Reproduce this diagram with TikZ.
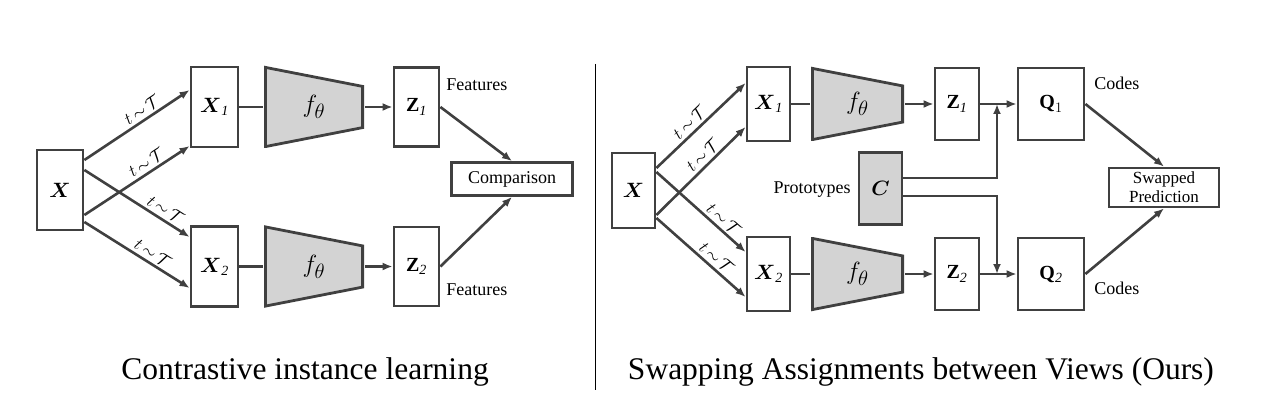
\documentclass[tikz,border=0pt]{standalone}
\usepackage{amsmath}
\usepackage{fontspec}
\setmainfont{Liberation Serif}
\usepackage{tikz}
\usetikzlibrary{positioning,arrows.meta}
\definecolor{linegray}{RGB}{64,64,64}
\definecolor{encgray}{RGB}{211,211,211}

\begin{document}
\begin{tikzpicture}[x=1pt,y=-1pt,-{Latex[length=10pt,width=8pt]},on grid,line width=2.6pt,color=linegray,
  box/.style={rectangle,draw,fill=white,line width=2.8pt,inner sep=0pt,text=black,font=\fontsize{20}{24}\selectfont},
  enc/.style={rectangle,inner sep=0pt,text=black,font=\fontsize{28}{32}\selectfont,
    path picture={\filldraw[draw=linegray,fill=encgray,line width=2.8pt]
      ([shift={(1.4pt,-1.4pt)}]path picture bounding box.north west) -- ([shift={(-1.4pt,-#1)}]path picture bounding box.north east)
      -- ([shift={(-1.4pt,#1)}]path picture bounding box.south east) -- ([shift={(1.4pt,1.4pt)}]path picture bounding box.south west) -- cycle;}},
  lbl/.style={inner sep=0pt,text=black,font=\fontsize{18}{21}\selectfont},
  aug/.style={sloped,above,inner sep=3pt,pos=0.6,text=black,font=\fontsize{18}{21}\selectfont},
  ttl/.style={text=black,font=\fontsize{31.5}{36}\selectfont}]
\useasboundingbox (0,0) rectangle (1261,401);

% contrastive instance learning
\node[box,minimum width=46pt,minimum height=80pt] (Xa) at (60,190) {$\boldsymbol{X}$};
\node[box,minimum width=47pt,minimum height=80pt] (Xa1) [above right=83pt and 154.5pt of Xa] {$\boldsymbol{X}_{\mathit{1}}$};
\node[box,minimum width=47pt,minimum height=80pt] (Xa2) [below=159.5pt of Xa1] {$\boldsymbol{X}_{\mathit{2}}$};
\node[enc=20.4pt,minimum width=100pt,minimum height=82pt] (fa1) [right=99.5pt of Xa1] {$f_\theta$};
\node[enc=20.4pt,minimum width=100pt,minimum height=82pt] (fa2) [right=99.5pt of Xa2] {$f_\theta$};
\node[box,minimum width=45pt,minimum height=79pt] (Za1) [right=102.5pt of fa1] {$\mathbf{Z}_{\mathit{1}}$};
\node[box,minimum width=45pt,minimum height=79pt] (Za2) [right=102.5pt of fa2] {$\mathbf{Z}_{\mathit{2}}$};
\node[box,minimum width=121pt,minimum height=33pt,font=\fontsize{18}{21}\selectfont] (cmp) [below right=72pt and 95.5pt of Za1] {Comparison};
\node[lbl,anchor=west] (fta1) at (445,85) {Features};
\node[lbl,anchor=west] (fta2) at (445,290) {Features};

\path ([yshift=30pt]Xa.east) edge node[aug] {$t\,{\sim}\,\mathcal{T}$} ([yshift=17pt]Xa1.west);
\path ([yshift=-25pt]Xa.east) edge node[aug,pos=0.64] {$t\,{\sim}\,\mathcal{T}$} ([yshift=-39pt]Xa1.west);
\path ([yshift=20pt]Xa.east) edge node[aug,pos=0.72] {$t\,{\sim}\,\mathcal{T}$} ([yshift=29.5pt]Xa2.west);
\path ([yshift=-32pt]Xa.east) edge node[aug] {$t\,{\sim}\,\mathcal{T}$} ([yshift=-21.5pt]Xa2.west);
\path (Xa1) edge[-] (fa1);
\path (Xa2) edge[-] (fa2);
\path (fa1) edge (Za1);
\path (fa2) edge (Za2);
\path (Za1.east) edge (cmp.north);
\path (Za2.east) edge (cmp.south);

\node[ttl] (tta) at (305,372) {Contrastive instance learning};
\draw[-,line width=1pt,black] (595,64) -- (595,390);

% swapping assignments between views
\node[box,minimum width=43pt,minimum height=75pt] (Xb) at (633.5,190.5) {$\boldsymbol{X}$};
\node[box,minimum width=43pt,minimum height=74pt] (Xb1) [above right=86.5pt and 135pt of Xb] {$\boldsymbol{X}_{\mathit{1}}$};
\node[box,minimum width=43pt,minimum height=74pt] (Xb2) [below=170pt of Xb1] {$\boldsymbol{X}_{\mathit{2}}$};
\node[enc=18.9pt,minimum width=93pt,minimum height=74pt] (fb1) [right=89pt of Xb1] {$f_\theta$};
\node[enc=18.9pt,minimum width=93pt,minimum height=74pt] (fb2) [right=89pt of Xb2] {$f_\theta$};
\node[box,minimum width=44pt,minimum height=72pt] (Zb1) [right=99.5pt of fb1] {$\mathbf{Z}_{\mathit{1}}$};
\node[box,minimum width=44pt,minimum height=72pt] (Zb2) [right=99.5pt of fb2] {$\mathbf{Z}_{\mathit{2}}$};
\node[box,minimum width=66pt,minimum height=72pt] (Qb1) [right=94pt of Zb1] {$\mathbf{Q}_{1}$};
\node[box,minimum width=66pt,minimum height=72pt] (Qb2) [right=94pt of Zb2] {$\mathbf{Q}_{\mathit{2}}$};
\node[box,fill=encgray,minimum width=43pt,minimum height=72pt] (Cb) at (880.5,188.5) {$\boldsymbol{C}$};
\node[lbl,anchor=east] (prt) at (852,190) {Prototypes};
\node[box,minimum width=110pt,minimum height=39pt,align=center,font=\fontsize{17}{19}\selectfont] (swp) at (1164,187.5) {Swapped\\Prediction};
\node[lbl,anchor=west] (cdb1) at (1093,83) {Codes};
\node[lbl,anchor=west] (cdb2) at (1093,288) {Codes};
\coordinate[right=40pt of Zb1] (jb1);
\coordinate[right=40pt of Zb2] (jb2);

\path ([yshift=22.5pt]Xb.east) edge node[aug,pos=0.45] {$t\,{\sim}\,\mathcal{T}$} ([yshift=21pt]Xb1.west);
\path ([yshift=-24.5pt]Xb.east) edge node[aug,pos=0.6] {$t\,{\sim}\,\mathcal{T}$} ([yshift=-23pt]Xb1.west);
\path ([yshift=18.5pt]Xb.east) edge node[aug,pos=0.68] {$t\,{\sim}\,\mathcal{T}$} ([yshift=22pt]Xb2.west);
\path ([yshift=-27.5pt]Xb.east) edge node[aug] {$t\,{\sim}\,\mathcal{T}$} ([yshift=-23pt]Xb2.west);
\path (Xb1) edge[-] (fb1);
\path (Xb2) edge[-] (fb2);
\path (fb1) edge (Zb1);
\path (fb2) edge (Zb2);
\path (Zb1) edge (Qb1);
\path (Zb2) edge (Qb2);
\draw ([yshift=10.5pt]Cb.east) -| (jb1);
\draw ([yshift=-7.5pt]Cb.east) -| (jb2);
\path (Qb1.east) edge (swp.north);
\path (Qb2.east) edge (swp.south);

\node[ttl] (ttb) at (921,372) {Swapping Assignments between Views (Ours)};
\end{tikzpicture}
\end{document}
